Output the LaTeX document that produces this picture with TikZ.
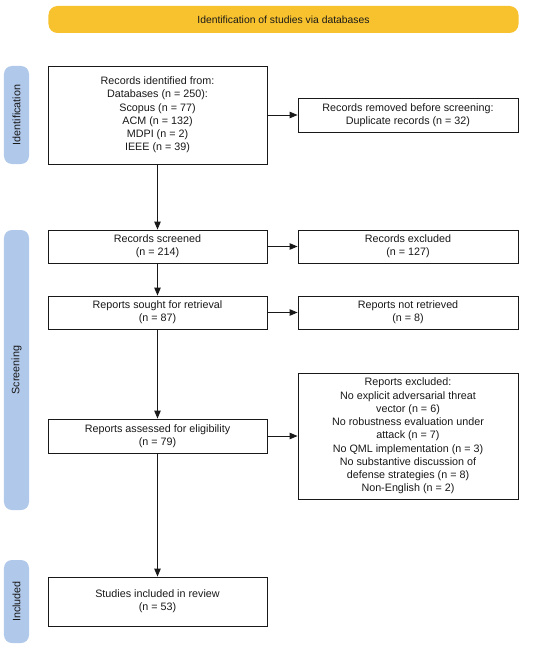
\documentclass[tikz,border=0pt]{standalone}
\usepackage{fontspec}
\setmainfont{Liberation Sans}
\usetikzlibrary{arrows.meta}
\definecolor{banner}{RGB}{248,194,46}
\definecolor{side}{RGB}{176,200,234}
\definecolor{ink}{RGB}{25,25,25}
\tikzset{
  box/.style={draw=ink, line width=0.9bp, fill=white, align=center, inner sep=0pt,
    font=\fontsize{10.8}{13.3}\selectfont, text=ink},
  sidebox/.style={fill=side, rounded corners=8bp, inner sep=0pt, rotate=90,
    minimum height=25bp, font=\fontsize{10.8}{13.3}\selectfont, text=ink},
  arr/.style={draw=ink, line width=0.9bp, -{Triangle[length=8bp,width=6.5bp]}}
}
\begin{document}
\begin{tikzpicture}[x=1bp,y=-1bp]
\useasboundingbox (0,0) rectangle (550,649);
\fill[white] (0,0) rectangle (550,649);
% banner
\node[fill=banner, rounded corners=9bp, minimum width=470bp, minimum height=27bp, inner sep=0pt,
  font=\fontsize{10.4}{12}\selectfont, text=ink] (ban) at (283.5,19.5) {Identification of studies via databases};
% side labels
\node[sidebox, minimum width=98bp] (sid) at (16.5,115) {Identification};
\node[sidebox, minimum width=280bp] (sscr) at (16.5,370) {Screening};
\node[sidebox, minimum width=83bp] (sinc) at (16.5,601.5) {Included};
% left column
\node[box, minimum width=219bp, minimum height=98bp] (rec) at (157.5,115)
  {Records identified from:\\Databases (n = 250):\\Scopus (n = 77)\\ACM (n = 132)\\MDPI (n = 2)\\IEEE (n = 39)};
\node[box, minimum width=219bp, minimum height=33bp] (scr) at (157.5,246.5) {Records screened\\(n = 214)};
\node[box, minimum width=219bp, minimum height=33bp] (sou) at (157.5,312.5) {Reports sought for retrieval\\(n = 87)};
\node[box, minimum width=219bp, minimum height=34bp] (ass) at (157.5,436) {Reports assessed for eligibility\\(n = 79)};
\node[box, minimum width=219bp, minimum height=49bp] (inc) at (157.5,601.5) {Studies included in review\\(n = 53)};
% right column
\node[box, minimum width=220bp, minimum height=34bp] (rem) at (408,115) {Records removed before screening:\\Duplicate records (n = 32)};
\node[box, minimum width=220bp, minimum height=33bp] (exc) at (408,246.5) {Records excluded\\(n = 127)};
\node[box, minimum width=220bp, minimum height=33bp] (nre) at (408,312.5) {Reports not retrieved\\(n = 8)};
\node[box, minimum width=220bp, minimum height=126bp] (rex) at (408,436)
  {Reports excluded:\\No explicit adversarial threat\\vector (n = 6)\\No robustness evaluation under\\attack (n = 7)\\No QML implementation (n = 3)\\No substantive discussion of\\defense strategies (n = 8)\\Non-English (n = 2)};
% arrows
\draw[arr] (rec) -- (scr);
\draw[arr] (scr) -- (sou);
\draw[arr] (sou) -- (ass);
\draw[arr] (ass) -- (inc);
\draw[arr] (rec) -- (rem);
\draw[arr] (scr) -- (exc);
\draw[arr] (sou) -- (nre);
\draw[arr] (ass) -- (rex);
\end{tikzpicture}
\end{document}
